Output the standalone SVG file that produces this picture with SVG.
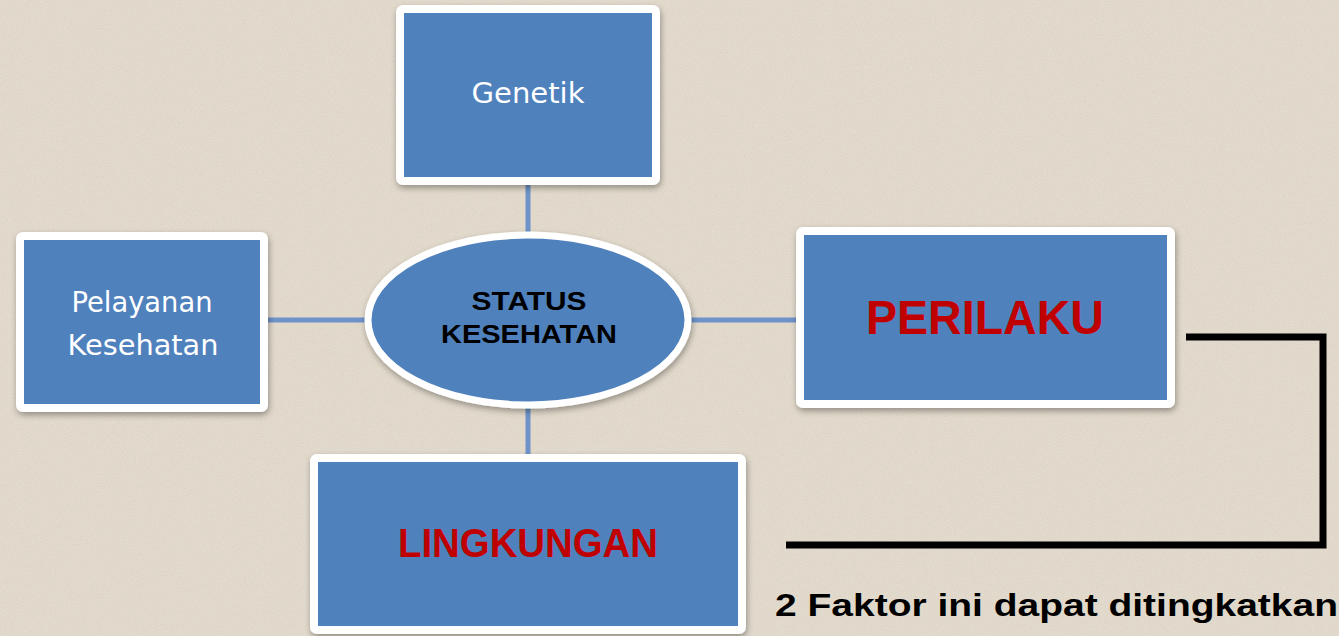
<svg xmlns="http://www.w3.org/2000/svg" width="1339" height="636" viewBox="0 0 1339 636">
<defs>
<filter id="noise" x="0" y="0" width="100%" height="100%">
<feTurbulence type="fractalNoise" baseFrequency="0.9" numOctaves="2" seed="3" result="n"/>
<feColorMatrix in="n" type="matrix" values="0 0 0 0 0.55  0 0 0 0 0.5  0 0 0 0 0.42  0 0 0 -1.6 1.0" result="c"/>
<feComposite in="c" in2="SourceGraphic" operator="in"/>
</filter>
<filter id="shadow" x="-10%" y="-10%" width="120%" height="130%">
<feDropShadow dx="1" dy="3" stdDeviation="3" flood-color="#000" flood-opacity="0.35"/>
</filter>
<style>
.box{fill:#4f81bd;stroke:#ffffff;stroke-width:8;filter:url(#shadow)}
.conn{stroke:#6d93c9;stroke-width:5;fill:none}
.wt{font-family:"DejaVu Sans","Liberation Sans",sans-serif;fill:#ffffff;text-anchor:middle}
.rt{font-family:"Liberation Sans","DejaVu Sans",sans-serif;font-weight:bold;fill:#c00000;text-anchor:middle}
.bt{font-family:"Liberation Sans","DejaVu Sans",sans-serif;font-weight:bold;fill:#000000}
</style>
</defs>
<rect width="1339" height="636" fill="#e3dbcd"/>
<rect width="1339" height="636" fill="#e3dbcd" filter="url(#noise)" opacity="0.35"/>
<g id="connectors">
<line class="conn" x1="528" y1="185" x2="528" y2="234"/>
<line class="conn" x1="528" y1="406" x2="528" y2="456"/>
<line class="conn" x1="266" y1="320" x2="368" y2="320"/>
<line class="conn" x1="688" y1="320" x2="798" y2="320"/>
<polyline points="1186,337 1323,337 1323,545 786,545" fill="none" stroke="#000" stroke-width="7"/>
</g>
<g id="genetik">
<rect class="box" x="400" y="9" width="256" height="172" rx="3"/>
<text class="wt" x="528" y="103" font-size="29" textLength="113" lengthAdjust="spacingAndGlyphs">Genetik</text>
</g>
<g id="pelayanan">
<rect class="box" x="20" y="236" width="244" height="172" rx="3"/>
<text class="wt" x="142" y="312" font-size="29" textLength="141" lengthAdjust="spacingAndGlyphs">Pelayanan</text>
<text class="wt" x="143" y="355" font-size="29" textLength="151" lengthAdjust="spacingAndGlyphs">Kesehatan</text>
</g>
<g id="status">
<ellipse cx="528" cy="320" rx="160" ry="85" fill="#4f81bd" stroke="#fff" stroke-width="7" filter="url(#shadow)"/>
<text x="529" y="310" font-family="Liberation Sans, DejaVu Sans, sans-serif" font-weight="bold" font-size="26" text-anchor="middle" textLength="115" lengthAdjust="spacingAndGlyphs">STATUS</text>
<text x="529" y="343" font-family="Liberation Sans, DejaVu Sans, sans-serif" font-weight="bold" font-size="26" text-anchor="middle" textLength="176" lengthAdjust="spacingAndGlyphs">KESEHATAN</text>
</g>
<g id="perilaku">
<rect class="box" x="800" y="231" width="371" height="173" rx="3"/>
<text class="rt" x="985" y="334" font-size="48" textLength="238" lengthAdjust="spacingAndGlyphs">PERILAKU</text>
</g>
<g id="lingkungan">
<rect class="box" x="314" y="458" width="428" height="172" rx="3"/>
<text class="rt" x="528" y="557" font-size="40" textLength="260" lengthAdjust="spacingAndGlyphs">LINGKUNGAN</text>
</g>
<text class="bt" x="775" y="616" font-size="32" textLength="563" lengthAdjust="spacingAndGlyphs">2 Faktor ini dapat ditingkatkan</text>
</svg>
